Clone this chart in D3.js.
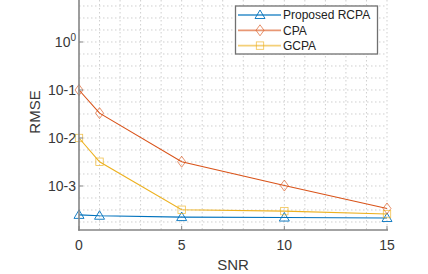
<!DOCTYPE html>
<html>
<head>
<meta charset="utf-8">
<script src="https://cdn.jsdelivr.net/npm/d3@7"></script>
<style>
  body { margin: 0; background: #fff; }
  svg { display: block; font-family: "Liberation Sans", Arial, sans-serif; }
</style>
</head>
<body>
<svg id="chart"></svg>
<script>
const snr = [0, 1, 5, 10, 15];
const seriesNames = ["Proposed RCPA", "CPA", "GCPA"];
const rcpa = [2.5e-4, 2.4e-4, 2.25e-4, 2.2e-4, 2.15e-4];
const cpa = [0.1, 0.033, 3.2e-3, 1.02e-3, 3.4e-4];
const gcpa = [0.01, 3.2e-3, 3.2e-4, 3.0e-4, 2.6e-4];
const xTicks = [0, 5, 10, 15];
const yTicks = [1, 0.1, 0.01, 0.001];
const yTickLabels = ["10^0", "10-1", "10-2", "10-3"];

const width = 428, height = 274;
const colors = ["#0072BD", "#D95319", "#EDB120"];
const markers = ["triangle", "diamond", "square"];

const svg = d3.select("#chart").attr("width", width).attr("height", height);

const x = d3.scaleLinear().domain([0, 15]).range([79, 387]);
const y = d3.scaleLog().domain([Math.pow(10, -3.917), 10]).range([230, -6]);

// grid (minor spacing: 1 SNR unit, quarter decade)
const grid = svg.append("g").attr("stroke", "#cfcfcf").attr("stroke-dasharray", "1.5,2.5");
grid.selectAll("line.v").data(d3.range(1, 16)).enter().append("line")
    .attr("x1", d => x(d)).attr("x2", d => x(d)).attr("y1", 0).attr("y2", 230);
grid.selectAll("line.h").data(d3.range(-15, 4).map(k => Math.pow(10, k / 4))).enter().append("line")
    .attr("x1", 79).attr("x2", 387).attr("y1", d => y(d)).attr("y2", d => y(d));

const all = [rcpa, cpa, gcpa];
const line = d3.line().x((d, i) => x(snr[i])).y(d => y(d));

function marker(g, type, color, cx, cy) {
    if (type === "triangle") {
        g.append("path").attr("d", `M${cx},${cy - 5}L${cx + 5},${cy + 3.5}L${cx - 5},${cy + 3.5}Z`)
            .attr("fill", "none").attr("stroke", color).attr("stroke-width", 0.9);
    } else if (type === "diamond") {
        g.append("path").attr("d", `M${cx},${cy - 5.5}L${cx + 4},${cy}L${cx},${cy + 5.5}L${cx - 4},${cy}Z`)
            .attr("fill", "none").attr("stroke", color).attr("stroke-width", 0.8).attr("opacity", 0.8);
    } else {
        g.append("rect").attr("x", cx - 3.7).attr("y", cy - 3.7).attr("width", 7.4).attr("height", 7.4)
            .attr("fill", "none").attr("stroke", color).attr("stroke-width", 0.8).attr("opacity", 0.8);
    }
}

all.forEach((vals, s) => {
    const g = svg.append("g");
    g.append("path").datum(vals).attr("d", line).attr("fill", "none")
        .attr("stroke", colors[s]).attr("stroke-width", 1.1);
    vals.forEach((v, i) => marker(g, markers[s], colors[s], x(snr[i]), y(v)));
});

// axes
const axis = svg.append("g").attr("stroke", "#858585").attr("stroke-width", 1.6);
axis.append("line").attr("x1", 79).attr("x2", 79).attr("y1", 0).attr("y2", 230.8);
axis.append("line").attr("x1", 78.2).attr("x2", 388).attr("y1", 230).attr("y2", 230);
axis.selectAll("line.xt").data(xTicks).enter().append("line")
    .attr("x1", d => x(d)).attr("x2", d => x(d)).attr("y1", 230).attr("y2", 226).attr("stroke-width", 1);
axis.selectAll("line.yt").data(yTicks).enter().append("line")
    .attr("x1", 79).attr("x2", 83).attr("y1", d => y(d)).attr("y2", d => y(d)).attr("stroke-width", 1);

const txt = "#383838";
svg.selectAll("text.xl").data(xTicks).enter().append("text")
    .attr("x", d => x(d)).attr("y", 250).attr("text-anchor", "middle")
    .attr("font-size", 14).attr("fill", txt).text(d => d);

yTicks.forEach((v, i) => {
    const t = svg.append("text").attr("x", 76).attr("y", y(v) + 5).attr("text-anchor", "end")
        .attr("font-size", 14).attr("fill", txt);
    const lab = yTickLabels[i];
    if (lab.includes("^")) {
        const [b, e] = lab.split("^");
        t.append("tspan").text(b);
        t.append("tspan").attr("dy", -6).attr("font-size", 10).text(e);
    } else {
        t.text(lab);
    }
});

svg.append("text").attr("x", 233).attr("y", 270).attr("text-anchor", "middle")
    .attr("font-size", 15).attr("fill", txt).text("SNR");
svg.append("text").attr("transform", "translate(40,112) rotate(-90)").attr("text-anchor", "middle")
    .attr("font-size", 15).attr("fill", txt).text("RMSE");

// legend
const leg = svg.append("g");
leg.append("rect").attr("x", 235.5).attr("y", 6).attr("width", 142).attr("height", 48)
    .attr("fill", "#fff").attr("stroke", "#707070").attr("stroke-width", 1.3);
seriesNames.forEach((name, s) => {
    const cy = 15 + s * 15.3;
    leg.append("line").attr("x1", 238).attr("x2", 281).attr("y1", cy).attr("y2", cy)
        .attr("stroke", colors[s]).attr("stroke-width", 1.8).attr("opacity", 0.6);
    marker(leg, markers[s], colors[s], 260, cy);
    leg.append("text").attr("x", 283).attr("y", cy + 4.3).attr("font-size", 12)
        .attr("fill", "#222").text(name);
});
</script>
</body>
</html>
